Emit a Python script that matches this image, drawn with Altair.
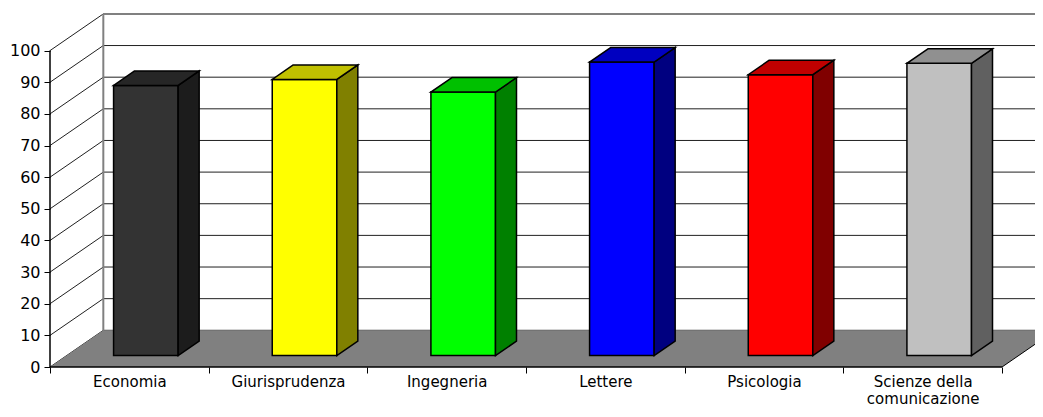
import json
import altair as alt
import pandas as pd

# ---- data ----
categories = ["Economia", "Giurisprudenza", "Ingegneria", "Lettere", "Psicologia",
              "Scienze della comunicazione"]
label_lines = [["Economia"], ["Giurisprudenza"], ["Ingegneria"], ["Lettere"],
               ["Psicologia"], ["Scienze della", "comunicazione"]]
values = [85.4, 87.3, 83.3, 92.8, 88.8, 92.4]
y_ticks = [0, 10, 20, 30, 40, 50, 60, 70, 80, 90, 100]

front_colors = ["#333333", "#FFFF00", "#00FF00", "#0000FF", "#FF0000", "#C0C0C0"]
side_colors = ["#1C1C1C", "#808000", "#008000", "#000080", "#800000", "#606060"]
top_colors = ["#262626", "#C0C000", "#00C000", "#0000C0", "#C00000", "#909090"]

# ---- 3D projection / layout constants ----
N = len(categories)
PLOT_W, PLOT_H = 985, 353
BAND_PX = 158.67
XMAX = PLOT_W / BAND_PX   # category units shown across the plot
YMAX = 111.57             # value units shown up the plot
DEPTH_X = 0.336           # wall depth, in category units
DEPTH_Y = 11.6            # wall depth, in value units
BAR_FRONT = 0.31          # depth fraction of the bar front face
BAR_DEPTH = 0.394         # depth fraction of the bar thickness
BAR_W = 0.407             # bar front width, category units

xs = alt.Scale(domain=[0, XMAX], nice=False, zero=False)
ys = alt.Scale(domain=[0, YMAX], nice=False, zero=False)

fronts, sides, tops = [], [], []
for i, (c, v) in enumerate(zip(categories, values)):
    x0 = i + 0.5 - BAR_W / 2 + BAR_FRONT * DEPTH_X
    x1 = x0 + BAR_W
    base = BAR_FRONT * DEPTH_Y
    top = base + v
    ddx, ddy = BAR_DEPTH * DEPTH_X, BAR_DEPTH * DEPTH_Y
    fronts.append(dict(cat=c, x=x0, x2=x1, y=base, y2=top))
    sides.append(dict(cat=c, x=x1, y=top, y2=base))
    sides.append(dict(cat=c, x=x1 + ddx, y=top + ddy, y2=base + ddy))
    tops.append(dict(cat=c, y=top, x=x0, x2=x1))
    tops.append(dict(cat=c, y=top + ddy, x=x0 + ddx, x2=x1 + ddx))

grid_back = pd.DataFrame([dict(x=DEPTH_X, x2=XMAX, y=k + DEPTH_Y) for k in y_ticks])
grid_side = pd.DataFrame([dict(x=0, x2=DEPTH_X, y=k, y2=k + DEPTH_Y) for k in y_ticks])
wall_v = pd.DataFrame([dict(x=DEPTH_X, y=DEPTH_Y, y2=y_ticks[-1] + DEPTH_Y)])
wall_t = pd.DataFrame([dict(x=DEPTH_X, x2=XMAX, y=y_ticks[-1] + DEPTH_Y)])
floor = pd.DataFrame([dict(y=0, x=0, x2=N), dict(y=DEPTH_Y, x=DEPTH_X, x2=N + DEPTH_X)])
floor_front = pd.DataFrame([dict(x=0, x2=N, y=0, y2=0)])
floor_right = pd.DataFrame([dict(x=N, x2=N + DEPTH_X, y=0, y2=DEPTH_Y)])
yaxis_line = pd.DataFrame([dict(x=0, y=0, y2=y_ticks[-1])])

label_expr = f"datum.value < {N} ? {json.dumps(label_lines)}[datum.value] : ''"

x_axis = alt.Axis(values=list(range(N + 1)), labelExpr=label_expr, labelOffset=BAND_PX / 2,
                  tickSize=6, tickColor="black", tickWidth=1, domain=False, grid=False,
                  labelFont="DejaVu Sans", labelFontSize=15, labelColor="black",
                  labelPadding=1.2, labelLineHeight=17.5, labelOverlap=False, labelFlush=False,
                  labelBound=False, labelBaseline="top", title=None)
y_axis = alt.Axis(values=y_ticks, tickSize=6, tickColor="black", tickWidth=1, domain=False,
                  grid=False, labelFont="DejaVu Sans", labelFontSize=16, labelColor="black",
                  labelPadding=4, title=None)


def X(field="x"):
    return alt.X(f"{field}:Q", scale=xs, axis=x_axis)


def Y(field="y"):
    return alt.Y(f"{field}:Q", scale=ys, axis=y_axis)


back = alt.Chart(grid_back).mark_rule(color="#202020", strokeWidth=1).encode(
    x=X(), x2="x2:Q", y=Y())
side = alt.Chart(grid_side).mark_rule(color="#202020", strokeWidth=1).encode(
    x=X(), x2="x2:Q", y=Y(), y2="y2:Q")
wv = alt.Chart(wall_v).mark_rule(color="#808080", strokeWidth=2).encode(
    x=X(), y=Y(), y2="y2:Q")
wt = alt.Chart(wall_t).mark_rule(color="#808080", strokeWidth=2).encode(
    x=X(), x2="x2:Q", y=Y())
fl = alt.Chart(floor).mark_area(orient="horizontal", color="#808080").encode(
    y=Y(), x=X(), x2="x2:Q")
ff = alt.Chart(floor_front).mark_rule(color="black", strokeWidth=1.5).encode(
    x=X(), x2="x2:Q", y=Y(), y2="y2:Q")
fr = alt.Chart(floor_right).mark_rule(color="black", strokeWidth=1).encode(
    x=X(), x2="x2:Q", y=Y(), y2="y2:Q")
ya = alt.Chart(yaxis_line).mark_rule(color="black", strokeWidth=1.5).encode(
    x=X(), y=Y(), y2="y2:Q")

front_face = alt.Chart(pd.DataFrame(fronts)).mark_rect(stroke="black", strokeWidth=1.5).encode(
    x=X(), x2="x2:Q", y=Y(), y2="y2:Q",
    fill=alt.Fill("cat:N", scale=alt.Scale(domain=categories, range=front_colors), legend=None))
side_face = alt.Chart(pd.DataFrame(sides)).mark_area(
    orient="vertical", stroke="black", strokeWidth=1.5, fillOpacity=1).encode(
    x=X(), y=Y(), y2="y2:Q", detail="cat:N",
    fill=alt.Fill("cat:N", scale=alt.Scale(domain=categories, range=side_colors), legend=None))
top_face = alt.Chart(pd.DataFrame(tops)).mark_area(
    orient="horizontal", stroke="black", strokeWidth=1.5, fillOpacity=1).encode(
    y=Y(), x=X(), x2="x2:Q", detail="cat:N",
    fill=alt.Fill("cat:N", scale=alt.Scale(domain=categories, range=top_colors), legend=None))

chart = alt.layer(back, side, wv, wt, fl, ff, fr, ya, front_face, side_face, top_face).resolve_scale(
    fill="independent"
).properties(
    width=PLOT_W, height=PLOT_H,
    padding={"left": 42, "top": 6, "right": 0, "bottom": 42},
    autosize=alt.AutoSizeParams(type="none"),
    background="white",
).configure_view(stroke=None)

chart.save("out.html", embed_options={"renderer": "svg", "actions": False})
